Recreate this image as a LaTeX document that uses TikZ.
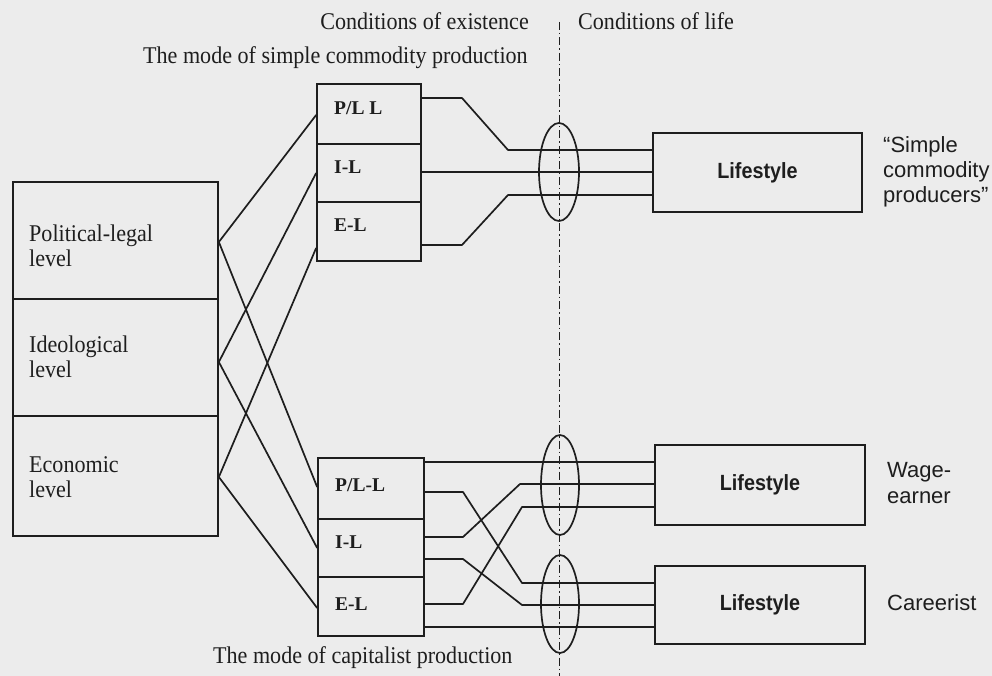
\documentclass[tikz,border=0pt]{standalone}
\usepackage{fontspec}
\setmainfont{Liberation Serif}
\newfontfamily\arialf{Liberation Sans}
\newfontfamily\serifn[FakeStretch=0.92]{Liberation Serif}
\newfontfamily\arialb[FakeStretch=0.9]{Liberation Sans Bold}
\usetikzlibrary{shapes.geometric}
\definecolor{bg}{RGB}{236,236,236}
\definecolor{ink}{RGB}{30,30,30}
\begin{document}
\begin{tikzpicture}[x=1pt,y=-1pt,
  levelbox/.style={draw=ink, line width=1.7pt, minimum width=205pt, inner sep=0pt},
  modebox/.style={draw=ink, line width=1.7pt, inner sep=0pt},
  lifebox/.style={draw=ink, line width=1.7pt, inner sep=0pt, text=ink,
     font=\arialb\fontsize{22}{26}\selectfont},
  ring/.style={draw=ink, line width=1.7pt, ellipse, inner sep=0pt, minimum width=40pt},
  wire/.style={draw=ink, line width=1.7pt, line join=round},
  axisline/.style={draw=ink, line width=1.5pt, dash pattern=on 8pt off 3pt on 1.5pt off 3pt},
  lbl/.style={font=\serifn\fontsize{24}{27}\selectfont, anchor=base west, inner sep=0pt, text=ink},
  modelbl/.style={font=\bfseries\fontsize{19.5}{22}\selectfont, anchor=base west, inner sep=0pt, text=ink},
  sidelbl/.style={font=\arialf\fontsize{22}{26}\selectfont, anchor=base west, inner sep=0pt, text=ink}]
\fill[bg] (0,0) rectangle (992,676);
\useasboundingbox (0,0) rectangle (992,676);

% headings
\node[lbl, anchor=base east] (hexist) at (529,30) {Conditions of existence};
\node[lbl] (hlife) at (578,30) {Conditions of life};
\node[lbl] (hsimple) at (143,64) {The mode of simple commodity production};
\node[lbl] (hcap) at (213,663) {The mode of capitalist production};

% dash-dot axis
\coordinate (dtop) at (559.5,22);
\coordinate (dbot) at (559.5,676);
\draw[axisline] (dtop) -- (dbot);

% left level boxes
\node[levelbox, minimum height=117pt] (pol) at (115.5,240.5) {};
\node[levelbox, minimum height=117pt] (ide) at (115.5,357.5) {};
\node[levelbox, minimum height=120pt] (eco) at (115.5,476) {};
\node[lbl] (pl1) at (29,241) {Political-legal};
\node[lbl] (pl2) at (29,266) {level};
\node[lbl] (id1) at (29,352) {Ideological};
\node[lbl] (id2) at (29,377) {level};
\node[lbl] (ec1) at (29,472) {Economic};
\node[lbl] (ec2) at (29,497) {level};

% top mode box
\node[modebox, minimum width=104pt, minimum height=60pt] (tPL) at (369,114) {};
\node[modebox, minimum width=104pt, minimum height=58pt] (tIL) at (369,173) {};
\node[modebox, minimum width=104pt, minimum height=59pt] (tEL) at (369,231.5) {};
\node[modelbl] (tPLt) at (334,115) {P/L L};
\node[modelbl] (tILt) at (334,174) {I-L};
\node[modelbl] (tELt) at (334,232) {E-L};

% bottom mode box
\node[modebox, minimum width=106pt, minimum height=61pt] (bPL) at (371,488.5) {};
\node[modebox, minimum width=106pt, minimum height=58pt] (bIL) at (371,548) {};
\node[modebox, minimum width=106pt, minimum height=59pt] (bEL) at (371,606.5) {};
\node[modelbl] (bPLt) at (335,491) {P/L-L};
\node[modelbl] (bILt) at (335,548) {I-L};
\node[modelbl] (bELt) at (335,610) {E-L};

% crossing connectors
\coordinate (polp) at (pol.east |- 0,242);
\coordinate (idep) at (ide.east |- 0,362);
\coordinate (ecop) at (eco.east |- 0,477);
\coordinate (tPLin) at (tPL.west |- 0,115);
\coordinate (tILin) at (tIL.west |- 0,173);
\coordinate (tELin) at (tEL.west |- 0,248);
\coordinate (bPLin) at (bPL.west |- 0,487);
\coordinate (bILin) at (bIL.west |- 0,548);
\coordinate (bELin) at (bEL.west |- 0,608);
\draw[wire] (tPLin) -- (polp) -- (bPLin);
\draw[wire] (tILin) -- (idep) -- (bILin);
\draw[wire] (tELin) -- (ecop) -- (bELin);

% lifestyle boxes
\node[lifebox, minimum width=209pt, minimum height=79pt] (life1) at (757.5,172.5) {Lifestyle};
\node[lifebox, minimum width=210pt, minimum height=80pt] (life2) at (760,485) {Lifestyle};
\node[lifebox, minimum width=210pt, minimum height=78pt] (life3) at (760,605) {Lifestyle};

% top wires
\draw[wire] (tPL.east |- 0,98) -- (462,98) -- (508,150) -- (life1.west |- 0,150);
\draw[wire] (tIL.east |- 0,172) -- (life1.west |- 0,172);
\draw[wire] (tEL.east |- 0,245) -- (462,245) -- (508,195) -- (life1.west |- 0,195);

% bottom wires
\draw[wire] (bPL.east |- 0,462) -- (life2.west |- 0,462);
\draw[wire] (bPL.east |- 0,492) -- (463,492) -- (522,583) -- (life3.west |- 0,583);
\draw[wire] (bIL.east |- 0,537) -- (463,537) -- (520,484) -- (life2.west |- 0,484);
\draw[wire] (bIL.east |- 0,559) -- (463,559) -- (522,605) -- (life3.west |- 0,605);
\draw[wire] (bEL.east |- 0,604) -- (463,604) -- (522,507) -- (life2.west |- 0,507);
\draw[wire] (bEL.east |- 0,627) -- (life3.west |- 0,627);

% ellipses
\node[ring, minimum height=98pt] (e1) at (559,172) {};
\node[ring, minimum height=100pt, minimum width=38pt] (e2) at (560,485) {};
\node[ring, minimum height=98pt, minimum width=38pt] (e3) at (560,604) {};

% side labels
\node[sidelbl] (s1) at (883,153) {“Simple};
\node[sidelbl] (s2) at (883,178) {commodity};
\node[sidelbl] (s3) at (883,203) {producers”};
\node[sidelbl] (w1) at (887,477) {Wage-};
\node[sidelbl] (w2) at (887,503) {earner};
\node[sidelbl] (c1) at (887,610) {Careerist};
\end{tikzpicture}
\end{document}
